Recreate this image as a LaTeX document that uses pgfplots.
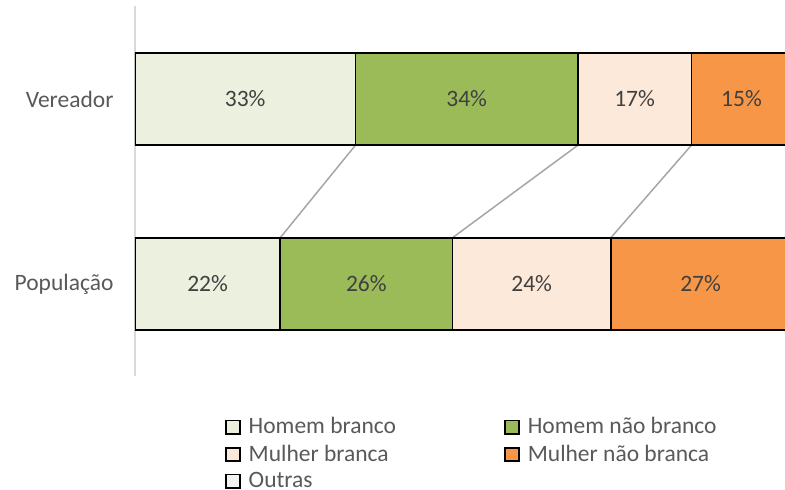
\documentclass[border=0pt]{standalone}
\usepackage{fontspec}
\setmainfont{Carlito}
\usepackage{pgfplots}
\pgfplotsset{compat=1.18}
\usepackage{pgfplotstable}
\definecolor{hb}{HTML}{EBF1DE}
\definecolor{hnb}{HTML}{9BBB59}
\definecolor{mb}{HTML}{FDE9D9}
\definecolor{mnb}{HTML}{F79646}
\definecolor{outc}{HTML}{F2F2F2}
\definecolor{txt}{HTML}{404040}
\definecolor{lbl}{HTML}{595959}
\definecolor{axl}{HTML}{D9D9D9}
\definecolor{ser}{HTML}{A6A6A6}
% y: 0 = Populacao, 1 = Vereador
\pgfplotstableread{
y v
0 22.0
1 33.4
}\tHB
\pgfplotstableread{
y v
0 26.1
1 33.7
}\tHNB
\pgfplotstableread{
y v
0 24.0
1 17.2
}\tMB
\pgfplotstableread{
y v
0 27.2
1 15.2
}\tMNB
\pgfplotstableread{
y v
0 0.7
1 0.5
}\tOUT
\newcommand{\fs}{\fontsize{23.5}{28}\selectfont}
\begin{document}
\begin{tikzpicture}
\useasboundingbox (0pt,0pt) rectangle (785pt,490pt);
\clip (0pt,0pt) rectangle (785pt,490pt);
% series lines
\begin{axis}[at={(135pt,113.5pt)}, anchor=south west, scale only axis,
  width=660pt, height=370pt, xmin=0, xmax=100, ymin=-0.5, ymax=1.5, hide axis]
\addplot[ser, line width=1.5pt] coordinates {(22.0,0.25) (33.4,0.75)};
\addplot[ser, line width=1.5pt] coordinates {(48.1,0.25) (67.1,0.75)};
\addplot[ser, line width=1.5pt] coordinates {(72.1,0.25) (84.3,0.75)};
\end{axis}
% bars
\begin{axis}[at={(135pt,113.5pt)}, anchor=south west, scale only axis,
  width=660pt, height=370pt, xmin=0, xmax=100, ymin=-0.5, ymax=1.5,
  xbar stacked, bar width=0.5,
  axis x line=none, axis y line*=left,
  y axis line style={axl, line width=2pt},
  ytick={0,1}, yticklabels={População,Vereador},
  major tick length=0pt,
  yticklabel style={font=\fs, text=lbl, xshift=-18pt},
  /pgf/number format/assume math mode=true,
  point meta=explicit,
  nodes near coords={\pgfmathprintnumber[fixed,precision=0,assume math mode=true]{\pgfplotspointmeta}\%},
  every node near coord/.append style={anchor=center, font=\fs, text=txt},
  legend columns=2,
  legend image code/.code={\draw[#1, line width=1.75pt] (0pt,-7.5pt) rectangle (14pt,6pt);},
  legend style={at={(0.136,-0.105)}, anchor=north west, draw=none, fill=none,
    font=\fs, text=lbl, inner sep=0pt, row sep=5.5pt,
    nodes={inner sep=2pt},
    /tikz/every odd column/.append style={column sep=6pt},
    /tikz/every even column/.append style={column sep=106pt}},
  legend cell align=left,
]
\addplot[fill=hb, draw=black, line width=1.75pt] table[x=v, y=y, meta=v] {\tHB};
\addplot[fill=hnb, draw=black, line width=1.75pt] table[x=v, y=y, meta=v] {\tHNB};
\addplot[fill=mb, draw=black, line width=1.75pt] table[x=v, y=y, meta=v] {\tMB};
\addplot[fill=mnb, draw=black, line width=1.75pt] table[x=v, y=y, meta=v] {\tMNB};
\addplot[fill=outc, draw=black, line width=1.75pt, nodes near coords={}] table[x=v, y=y, meta=v] {\tOUT};
\legend{Homem branco, Homem não branco, Mulher branca, Mulher não branca, Outras}
\end{axis}
\end{tikzpicture}
\end{document}
